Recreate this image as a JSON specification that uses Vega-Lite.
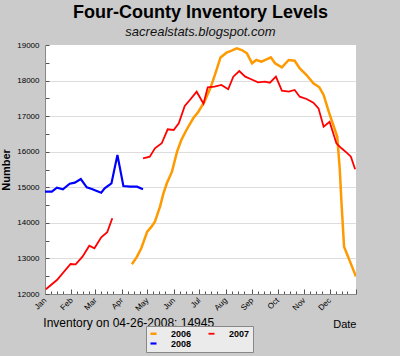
{
  "$schema": "https://vega.github.io/schema/vega-lite/v6.json",
  "width": 311,
  "height": 249,
  "autosize": {"type": "none"},
  "padding": {"left": 45, "top": 45, "right": 44, "bottom": 62},
  "background": "#cbcbcb",
  "title": {
    "text": "Four-County Inventory Levels",
    "subtitle": "sacrealstats.blogspot.com",
    "anchor": "middle",
    "frame": "group",
    "font": "Liberation Sans",
    "fontSize": 18,
    "fontWeight": "bold",
    "color": "#000000",
    "subtitleFont": "Liberation Sans",
    "subtitleFontSize": 13,
    "subtitleFontStyle": "italic",
    "subtitleColor": "#111111",
    "subtitlePadding": 4,
    "offset": 2
  },
  "config": {
    "view": {"fill": "#ffffff", "stroke": null},
    "font": "Liberation Sans",
    "axis": {"labelFont": "Liberation Sans", "titleFont": "Liberation Sans", "labelOverlap": false, "labelSeparation": 0}
  },
  "datasets": {
    "inv": [
      {"series": "2006", "seg": "2006", "day": 102, "value": 12835},
      {"series": "2006", "seg": "2006", "day": 108, "value": 13049},
      {"series": "2006", "seg": "2006", "day": 113, "value": 13285},
      {"series": "2006", "seg": "2006", "day": 120, "value": 13752},
      {"series": "2006", "seg": "2006", "day": 125, "value": 13893},
      {"series": "2006", "seg": "2006", "day": 129, "value": 14033},
      {"series": "2006", "seg": "2006", "day": 135, "value": 14455},
      {"series": "2006", "seg": "2006", "day": 139, "value": 14830},
      {"series": "2006", "seg": "2006", "day": 143, "value": 15112},
      {"series": "2006", "seg": "2006", "day": 149, "value": 15439},
      {"series": "2006", "seg": "2006", "day": 155, "value": 16003},
      {"series": "2006", "seg": "2006", "day": 160, "value": 16330},
      {"series": "2006", "seg": "2006", "day": 166, "value": 16611},
      {"series": "2006", "seg": "2006", "day": 174, "value": 16940},
      {"series": "2006", "seg": "2006", "day": 180, "value": 17125},
      {"series": "2006", "seg": "2006", "day": 187, "value": 17400},
      {"series": "2006", "seg": "2006", "day": 194, "value": 17783},
      {"series": "2006", "seg": "2006", "day": 200, "value": 18204},
      {"series": "2006", "seg": "2006", "day": 206, "value": 18650},
      {"series": "2006", "seg": "2006", "day": 213, "value": 18784},
      {"series": "2006", "seg": "2006", "day": 219, "value": 18840},
      {"series": "2006", "seg": "2006", "day": 225, "value": 18906},
      {"series": "2006", "seg": "2006", "day": 231, "value": 18859},
      {"series": "2006", "seg": "2006", "day": 237, "value": 18766},
      {"series": "2006", "seg": "2006", "day": 243, "value": 18485},
      {"series": "2006", "seg": "2006", "day": 248, "value": 18578},
      {"series": "2006", "seg": "2006", "day": 254, "value": 18531},
      {"series": "2006", "seg": "2006", "day": 260, "value": 18597},
      {"series": "2006", "seg": "2006", "day": 265, "value": 18654},
      {"series": "2006", "seg": "2006", "day": 270, "value": 18485},
      {"series": "2006", "seg": "2006", "day": 278, "value": 18372},
      {"series": "2006", "seg": "2006", "day": 286, "value": 18578},
      {"series": "2006", "seg": "2006", "day": 293, "value": 18559},
      {"series": "2006", "seg": "2006", "day": 299, "value": 18344},
      {"series": "2006", "seg": "2006", "day": 307, "value": 18157},
      {"series": "2006", "seg": "2006", "day": 315, "value": 17923},
      {"series": "2006", "seg": "2006", "day": 322, "value": 17811},
      {"series": "2006", "seg": "2006", "day": 327, "value": 17595},
      {"series": "2006", "seg": "2006", "day": 333, "value": 17125},
      {"series": "2006", "seg": "2006", "day": 339, "value": 16703},
      {"series": "2006", "seg": "2006", "day": 343, "value": 16421},
      {"series": "2006", "seg": "2006", "day": 346, "value": 15487},
      {"series": "2006", "seg": "2006", "day": 348, "value": 14550},
      {"series": "2006", "seg": "2006", "day": 351, "value": 13331},
      {"series": "2006", "seg": "2006", "day": 358, "value": 12910},
      {"series": "2006", "seg": "2006", "day": 365, "value": 12489},
      {"series": "2007", "seg": "2007a", "day": 1, "value": 12132},
      {"series": "2007", "seg": "2007a", "day": 14, "value": 12394},
      {"series": "2007", "seg": "2007a", "day": 30, "value": 12844},
      {"series": "2007", "seg": "2007a", "day": 36, "value": 12835},
      {"series": "2007", "seg": "2007a", "day": 44, "value": 13049},
      {"series": "2007", "seg": "2007a", "day": 52, "value": 13358},
      {"series": "2007", "seg": "2007a", "day": 58, "value": 13285},
      {"series": "2007", "seg": "2007a", "day": 66, "value": 13594},
      {"series": "2007", "seg": "2007a", "day": 73, "value": 13735},
      {"series": "2007", "seg": "2007a", "day": 79, "value": 14128},
      {"series": "2007", "seg": "2007b", "day": 115, "value": 15815},
      {"series": "2007", "seg": "2007b", "day": 123, "value": 15861},
      {"series": "2007", "seg": "2007b", "day": 129, "value": 16096},
      {"series": "2007", "seg": "2007b", "day": 137, "value": 16237},
      {"series": "2007", "seg": "2007b", "day": 144, "value": 16630},
      {"series": "2007", "seg": "2007b", "day": 151, "value": 16611},
      {"series": "2007", "seg": "2007b", "day": 157, "value": 16799},
      {"series": "2007", "seg": "2007b", "day": 164, "value": 17285},
      {"series": "2007", "seg": "2007b", "day": 170, "value": 17454},
      {"series": "2007", "seg": "2007b", "day": 178, "value": 17687},
      {"series": "2007", "seg": "2007b", "day": 186, "value": 17350},
      {"series": "2007", "seg": "2007b", "day": 191, "value": 17811},
      {"series": "2007", "seg": "2007b", "day": 199, "value": 17828},
      {"series": "2007", "seg": "2007b", "day": 207, "value": 17876},
      {"series": "2007", "seg": "2007b", "day": 215, "value": 17755},
      {"series": "2007", "seg": "2007b", "day": 221, "value": 18110},
      {"series": "2007", "seg": "2007b", "day": 228, "value": 18269},
      {"series": "2007", "seg": "2007b", "day": 235, "value": 18110},
      {"series": "2007", "seg": "2007b", "day": 242, "value": 18036},
      {"series": "2007", "seg": "2007b", "day": 250, "value": 17951},
      {"series": "2007", "seg": "2007b", "day": 258, "value": 17970},
      {"series": "2007", "seg": "2007b", "day": 264, "value": 17941},
      {"series": "2007", "seg": "2007b", "day": 271, "value": 18110},
      {"series": "2007", "seg": "2007b", "day": 278, "value": 17716},
      {"series": "2007", "seg": "2007b", "day": 286, "value": 17688},
      {"series": "2007", "seg": "2007b", "day": 293, "value": 17735},
      {"series": "2007", "seg": "2007b", "day": 299, "value": 17547},
      {"series": "2007", "seg": "2007b", "day": 307, "value": 17482},
      {"series": "2007", "seg": "2007b", "day": 315, "value": 17378},
      {"series": "2007", "seg": "2007b", "day": 321, "value": 17219},
      {"series": "2007", "seg": "2007b", "day": 327, "value": 16703},
      {"series": "2007", "seg": "2007b", "day": 334, "value": 16844},
      {"series": "2007", "seg": "2007b", "day": 342, "value": 16237},
      {"series": "2007", "seg": "2007b", "day": 348, "value": 16096},
      {"series": "2007", "seg": "2007b", "day": 354, "value": 15974},
      {"series": "2007", "seg": "2007b", "day": 359, "value": 15861},
      {"series": "2007", "seg": "2007b", "day": 364, "value": 15505},
      {"series": "2008", "seg": "2008", "day": 0, "value": 14876},
      {"series": "2008", "seg": "2008", "day": 8, "value": 14876},
      {"series": "2008", "seg": "2008", "day": 14, "value": 14989},
      {"series": "2008", "seg": "2008", "day": 21, "value": 14944},
      {"series": "2008", "seg": "2008", "day": 29, "value": 15101},
      {"series": "2008", "seg": "2008", "day": 35, "value": 15130},
      {"series": "2008", "seg": "2008", "day": 42, "value": 15233},
      {"series": "2008", "seg": "2008", "day": 49, "value": 15000},
      {"series": "2008", "seg": "2008", "day": 55, "value": 14952},
      {"series": "2008", "seg": "2008", "day": 60, "value": 14904},
      {"series": "2008", "seg": "2008", "day": 66, "value": 14848},
      {"series": "2008", "seg": "2008", "day": 70, "value": 14972},
      {"series": "2008", "seg": "2008", "day": 78, "value": 15112},
      {"series": "2008", "seg": "2008", "day": 85, "value": 15908},
      {"series": "2008", "seg": "2008", "day": 92, "value": 15036},
      {"series": "2008", "seg": "2008", "day": 100, "value": 15017},
      {"series": "2008", "seg": "2008", "day": 108, "value": 15017},
      {"series": "2008", "seg": "2008", "day": 115, "value": 14945}
    ],
    "note": [{"label": "Inventory on 04-26-2008: 14945"}]
  },
  "layer": [
    {
      "data": {"name": "inv"},
      "mark": {"type": "line", "clip": true},
      "encoding": {
        "x": {
          "field": "day",
          "type": "quantitative",
          "scale": {"domain": [0, 365], "nice": false, "zero": false},
          "axis": {
            "title": "Date",
            "titleAnchor": "end",
            "titleAlign": "right",
            "titleFontSize": 11,
            "titleFontWeight": "normal",
            "titleColor": "#000000",
            "titlePadding": 6,
            "tickCount": 200,
            "values": [0, 7, 14, 21, 31, 38, 45, 52, 59, 66, 73, 80, 90, 97, 104, 111, 120, 127, 134, 141, 151, 158, 165, 172, 181, 188, 195, 202, 212, 219, 226, 233, 243, 250, 257, 264, 273, 280, 287, 294, 304, 311, 318, 325, 334, 341, 348, 355, 365],
            "labelExpr": "indexof([0,31,59,90,120,151,181,212,243,273,304,334], datum.value) < 0 ? '' : ['Jan','Feb','Mar','Apr','May','Jun','Jul','Aug','Sep','Oct','Nov','Dec'][indexof([0,31,59,90,120,151,181,212,243,273,304,334], datum.value)]",
            "labelAngle": -45,
            "labelAlign": "right",
            "labelBaseline": "middle",
            "labelFontSize": 8,
            "labelColor": "#000000",
            "labelPadding": 10,
            "labelOverlap": false,
            "labelBound": false,
            "labelFlush": false,
            "tickSize": {"condition": {"test": "indexof([0,31,59,90,120,151,181,212,243,273,304,334,365], datum.value) >= 0", "value": -5}, "value": -3},
            "tickColor": "#555555",
            "domainColor": "#888888",
            "grid": false
          }
        },
        "y": {
          "field": "value",
          "type": "quantitative",
          "scale": {"domain": [12000, 19000], "nice": false, "zero": false},
          "axis": {
            "title": "Number",
            "titleFontSize": 11,
            "titleFontWeight": "bold",
            "titleColor": "#000000",
            "titlePadding": 5,
            "tickCount": 100,
            "values": [12000, 12500, 13000, 13500, 14000, 14500, 15000, 15500, 16000, 16500, 17000, 17500, 18000, 18500, 19000],
            "labelExpr": "datum.value % 1000 == 0 ? datum.value : ''",
            "labelFontSize": 8,
            "labelColor": "#000000",
            "labelPadding": 10,
            "labelOverlap": false,
            "labelFlush": false,
            "tickSize": -4,
            "tickColor": "#555555",
            "domainColor": "#888888",
            "grid": true,
            "gridColor": "#dddddd",
            "gridWidth": 1,
            "gridOpacity": {"condition": {"test": "datum.value % 1000 == 0 && datum.value > 12000 && datum.value < 19000", "value": 1}, "value": 0}
          }
        },
        "color": {
          "field": "series",
          "type": "nominal",
          "scale": {"domain": ["2006", "2008", "2007"], "range": ["#ff9900", "#0000ff", "#ff0000"]},
          "legend": {
            "title": null,
            "orient": "none",
            "legendX": 101,
            "legendY": 281,
            "columns": 2,
            "symbolType": "stroke",
            "symbolSize": 36,
            "symbolStrokeWidth": 1.5,
            "labelFontSize": 9,
            "labelFontWeight": "bold",
            "labelColor": "#000000",
            "labelOffset": 13,
            "columnPadding": 12,
            "rowPadding": 0,
            "fillColor": "#ebebeb",
            "strokeColor": "#888888",
            "padding": 3
          }
        },
        "strokeWidth": {
          "field": "series",
          "type": "nominal",
          "scale": {"domain": ["2006", "2008", "2007"], "range": [2.5, 1.8, 1.8]},
          "legend": null
        },
        "detail": {"field": "seg", "type": "nominal"}
      }
    },
    {
      "data": {"name": "note"},
      "mark": {"type": "text", "align": "left", "baseline": "alphabetic", "fontSize": 12, "color": "#000000", "clip": false},
      "encoding": {
        "x": {"datum": -2},
        "y": {"datum": 11075},
        "text": {"field": "label", "type": "nominal"}
      }
    }
  ]
}
